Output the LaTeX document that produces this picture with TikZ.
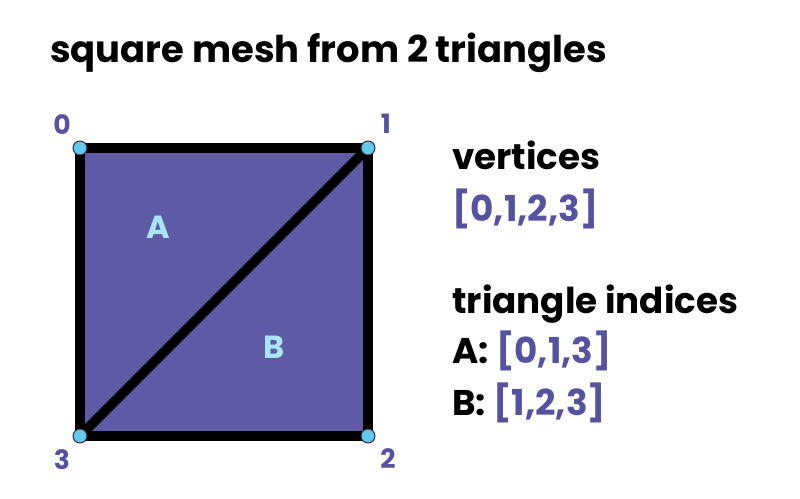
\documentclass[tikz,border=0pt]{standalone}
\usepackage{fontspec}
\setmainfont{Poppins}[BoldFont=* Bold]
\definecolor{meshfill}{HTML}{5E5AA6}
\definecolor{vertblue}{HTML}{62C8EE}
\definecolor{lbl}{HTML}{5552A0}
\definecolor{trilbl}{HTML}{A8E6F7}
\tikzset{
  px/.style={x=0.75pt,y=-0.75pt},
  edge/.style={line width=7.2pt,line cap=round,line join=round},
  vert/.style={circle,fill=vertblue,draw=black!80,line width=0.8pt,minimum size=10.5pt,inner sep=0pt},
  vlabel/.style={text=lbl,font=\bfseries\fontsize{20}{22}\selectfont},
  tlabel/.style={text=trilbl,font=\bfseries\fontsize{24}{26}\selectfont},
  heading/.style={anchor=base west,inner sep=0pt,font=\bfseries\fontsize{26.8}{28}\selectfont},
  titletxt/.style={anchor=base west,inner sep=0pt,font=\bfseries\fontsize{27.7}{30}\selectfont},
}
\begin{document}
\begin{tikzpicture}[px]
\useasboundingbox (0,0) rectangle (800,499);
\coordinate (p0) at (80,148);
\coordinate (p1) at (368,148);
\coordinate (p2) at (368,436);
\coordinate (p3) at (80,436);
\fill[meshfill] (p0) rectangle (p2);
\draw[edge] (p0) -- (p1) -- (p2) -- (p3) -- cycle;
\draw[edge] (p3) -- (p1);
\node[vert] (v0) at (p0) {};
\node[vert] (v1) at (p1) {};
\node[vert] (v2) at (p2) {};
\node[vert] (v3) at (p3) {};
\node[vlabel] (l0) at (62,125) {0};
\node[vlabel] (l1) at (386,124) {1};
\node[vlabel] (l2) at (388,459) {2};
\node[vlabel] (l3) at (62,460) {3};
\node[tlabel] (ta) at (158,227) {A};
\node[tlabel] (tb) at (274,347) {B};
\node[titletxt] (title) at (50,63) {square mesh from 2 triangles};
\node[heading] (hv) at (452,170) {vertices};
\node[heading,text=lbl] (lv) at (452,222) {[0,1,2,3]};
\node[heading] (ht) at (452,313) {triangle indices};
\node[heading] (la) at (452,363) {A: \textcolor{lbl}{[0,1,3]}};
\node[heading] (lb) at (452,415) {B: \textcolor{lbl}{[1,2,3]}};
\end{tikzpicture}
\end{document}
